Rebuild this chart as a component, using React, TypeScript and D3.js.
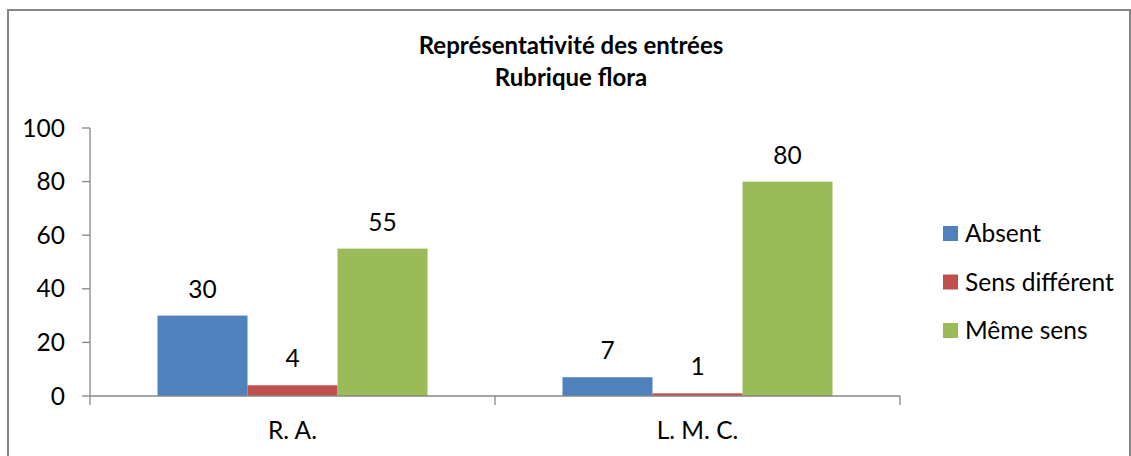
import * as d3 from 'd3';
import React from 'react';

const categories = ['R. A.', 'L. M. C.'];
const seriesNames = ['Absent', 'Sens différent', 'Même sens'];
const absent = [30, 7];
const sensDifferent = [4, 1];
const memeSens = [55, 80];
const yTicks = [0, 20, 40, 60, 80, 100];
const titleLines = ['Représentativité des entrées', 'Rubrique flora'];

const colors = ['#4F81BD', '#C0504D', '#9BBB59'];
const font = 'Lato, "Open Sans", sans-serif';
const axisColor = '#868686';
const fs = 24.5;

export default function App() {
  const width = 1131;
  const height = 456;
  const seriesValues = [absent, sensDifferent, memeSens];

  const x0 = d3.scaleBand().domain(categories).range([90, 900]).paddingInner(0).paddingOuter(0);
  const x1 = d3.scaleBand().domain(seriesNames).range([0, x0.bandwidth()]).paddingInner(0).paddingOuter(0.75);
  const y = d3.scaleLinear().domain([0, 100]).range([396, 128]);

  const catTicks = [90, ...categories.map(c => (x0(c) as number) + x0.bandwidth())];

  return (
    <svg width={width} height={height} style={{ position: 'absolute', left: 0, top: 0 }} fontFamily={font}>
      <rect x={0} y={0} width={width} height={height} fill="#fff" />
      <rect x={8} y={10} width={1122} height={470} fill="none" stroke={axisColor} strokeWidth={2} />

      {titleLines.map((t, i) => (
        <text key={t} x={571} y={54 + i * 32} textAnchor="middle" fontWeight="bold" fontSize={24} fill="#000">{t}</text>
      ))}

      {/* y axis */}
      <line x1={90} x2={90} y1={y(100)} y2={y(0)} stroke={axisColor} strokeWidth={1.3} />
      {yTicks.map(t => (
        <g key={t}>
          <line x1={82} x2={90} y1={y(t)} y2={y(t)} stroke={axisColor} strokeWidth={1.3} />
          <text x={65} y={y(t)} dy="0.35em" textAnchor="end" fontSize={fs} fill="#000">{t}</text>
        </g>
      ))}

      {/* bars */}
      {categories.map((c, ci) => (
        <g key={c} transform={`translate(${x0(c)},0)`}>
          {seriesNames.map((s, si) => {
            const v = seriesValues[si][ci];
            const bx = x1(s) as number;
            return (
              <g key={s}>
                <rect x={bx} y={y(v)} width={x1.bandwidth()} height={y(0) - y(v)} fill={colors[si]} />
                <text x={bx + x1.bandwidth() / 2} y={y(v) - 18} textAnchor="middle" fontSize={fs} fill="#000">{v}</text>
              </g>
            );
          })}
        </g>
      ))}

      {/* x axis */}
      <line x1={90} x2={900} y1={y(0)} y2={y(0)} stroke={axisColor} strokeWidth={1.3} />
      {catTicks.map(t => (
        <line key={t} x1={t} x2={t} y1={y(0)} y2={y(0) + 9} stroke={axisColor} strokeWidth={1.3} />
      ))}
      {categories.map(c => (
        <text key={c} x={(x0(c) as number) + x0.bandwidth() / 2} y={439} textAnchor="middle" fontSize={fs} fill="#000">{c}</text>
      ))}

      {/* legend */}
      {seriesNames.map((s, i) => (
        <g key={s} transform={`translate(943,${226 + i * 48.5})`}>
          <rect x={0} y={0} width={15} height={15} fill={colors[i]} />
          <text x={22} y={7.5} dy="0.35em" fontSize={fs} fill="#000">{s}</text>
        </g>
      ))}
    </svg>
  );
}
